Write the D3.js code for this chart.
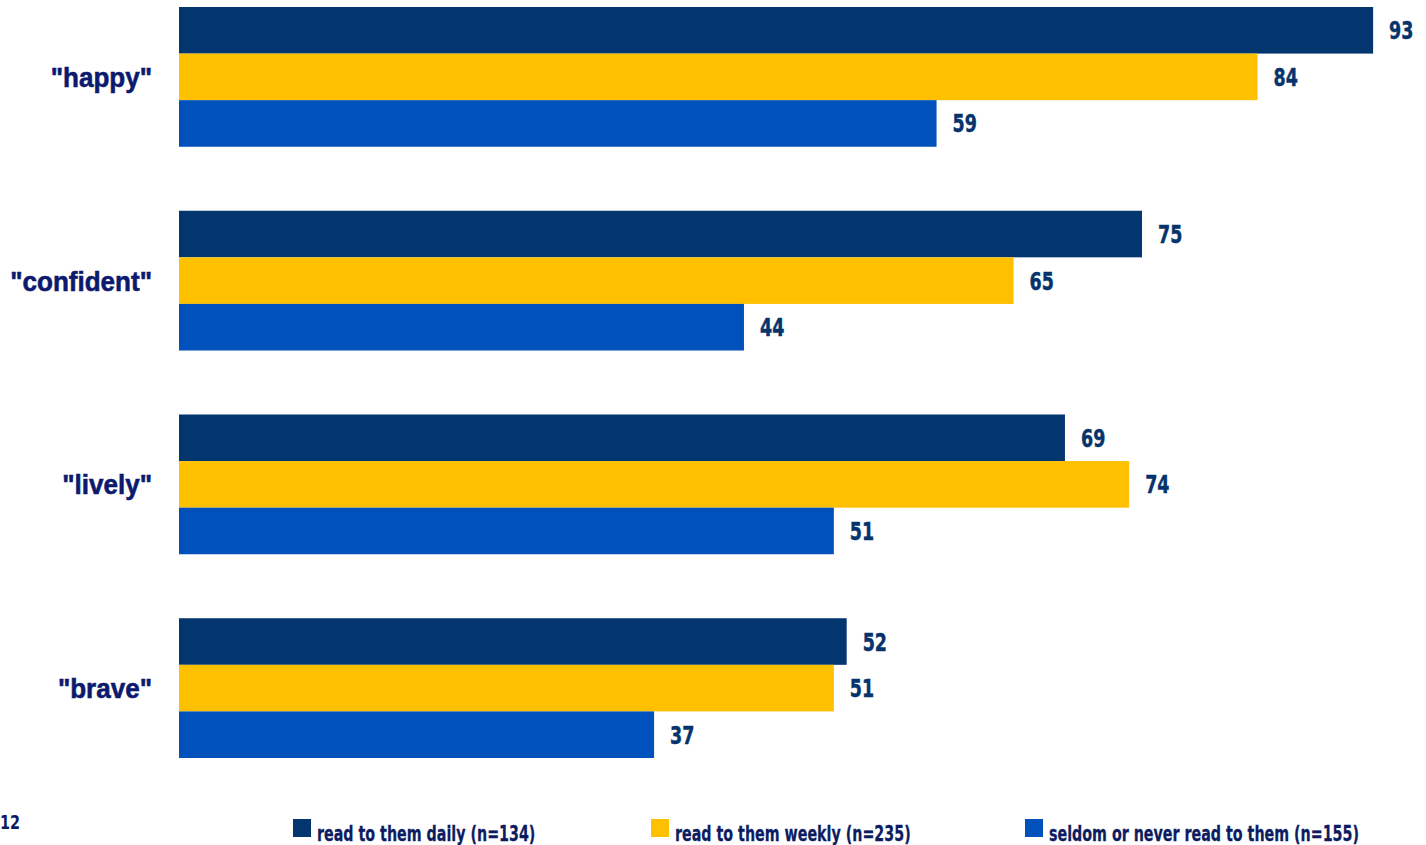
<!DOCTYPE html>
<html>
<head>
<meta charset="utf-8">
<script src="https://cdn.jsdelivr.net/npm/d3@7"></script>
<style>
  html, body { margin: 0; padding: 0; background: #ffffff; }
  svg { display: block; font-family: "DejaVu Sans", sans-serif; font-weight: bold; }
</style>
</head>
<body>
<svg id="chart" width="1426" height="845"></svg>
<script>
// Descriptors (category axis)
const categories = ['"happy"', '"confident"', '"lively"', '"brave"'];

// Series: how often children are read to
const seriesNames = ["read to them daily (n=134)", "read to them weekly (n=235)", "seldom or never read to them (n=155)"];
const dailyValues = [93, 75, 69, 52];
const weeklyValues = [84, 65, 74, 51];
const seldomValues = [59, 44, 51, 37];
const seriesColors = ["#03366f", "#ffc000", "#0051bb"];

const pageNumber = "12";

const seriesValues = [dailyValues, weeklyValues, seldomValues];

// condensed look: squeeze the glyphs horizontally
const squeeze = s => `scale(${s},1)`;

const svg = d3.select("#chart");

const x = d3.scaleLinear().domain([0, 100]).range([179, 179 + 1284]);

const y = d3.scaleBand()
  .domain(categories)
  .range([7, 758])
  .paddingInner(0.314)
  .paddingOuter(0);

const ySub = d3.scaleBand()
  .domain(d3.range(seriesNames.length))
  .range([0, y.bandwidth()])
  .padding(0);

const rows = [];
categories.forEach((c, i) => {
  seriesValues.forEach((vals, s) => {
    rows.push({ cat: c, s: s, v: vals[i] });
  });
});

const g = svg.append("g");

g.selectAll("rect.bar")
  .data(rows)
  .join("rect")
  .attr("class", "bar")
  .attr("x", x(0))
  .attr("y", d => y(d.cat) + ySub(d.s))
  .attr("width", d => x(d.v) - x(0))
  .attr("height", ySub.bandwidth())
  .attr("fill", d => seriesColors[d.s]);

// value labels at bar ends
g.selectAll("text.val")
  .data(rows)
  .join("text")
  .attr("class", "val")
  .attr("transform", d => `translate(${x(d.v) + 16},${y(d.cat) + ySub(d.s) + ySub.bandwidth() / 2}) ${squeeze(0.7)}`)
  .attr("dy", "0.36em")
  .attr("font-size", 25)
  .attr("fill", "#06336b")
  .attr("stroke", "#06336b")
  .attr("stroke-width", 0.5)
  .text(d => d.v);

// category axis labels
const yAxis = d3.axisLeft(y).tickSize(0).tickPadding(0);
const axisG = svg.append("g")
  .attr("transform", `translate(152,0)`)
  .call(yAxis);
axisG.select(".domain").remove();
axisG.selectAll("text")
  .attr("font-family", null)
  .attr("font-size", 28)
  .attr("fill", "#0b1a6e")
  .attr("stroke", "#0b1a6e")
  .attr("stroke-width", 0.6)
  .attr("x", 0)
  .attr("dy", "0.36em")
  .attr("transform", squeeze(0.93));

// legend
const legendX = [293, 651, 1025];
const legend = svg.append("g");
const items = legend.selectAll("g")
  .data(seriesNames)
  .join("g")
  .attr("transform", (d, i) => `translate(${legendX[i]},819)`);
items.append("rect")
  .attr("width", 18)
  .attr("height", 18)
  .attr("fill", (d, i) => seriesColors[i]);
items.append("text")
  .attr("transform", `translate(24,22) ${squeeze(0.68)}`)
  .attr("font-size", 21)
  .attr("fill", "#0d1c60")
  .attr("stroke", "#0d1c60")
  .attr("stroke-width", 0.3)
  .text(d => d);

// page number
svg.append("text")
  .attr("transform", `translate(0,829) ${squeeze(0.72)}`)
  .attr("font-size", 20)
  .attr("fill", "#0d1c60")
  .text(pageNumber);
</script>
</body>
</html>
